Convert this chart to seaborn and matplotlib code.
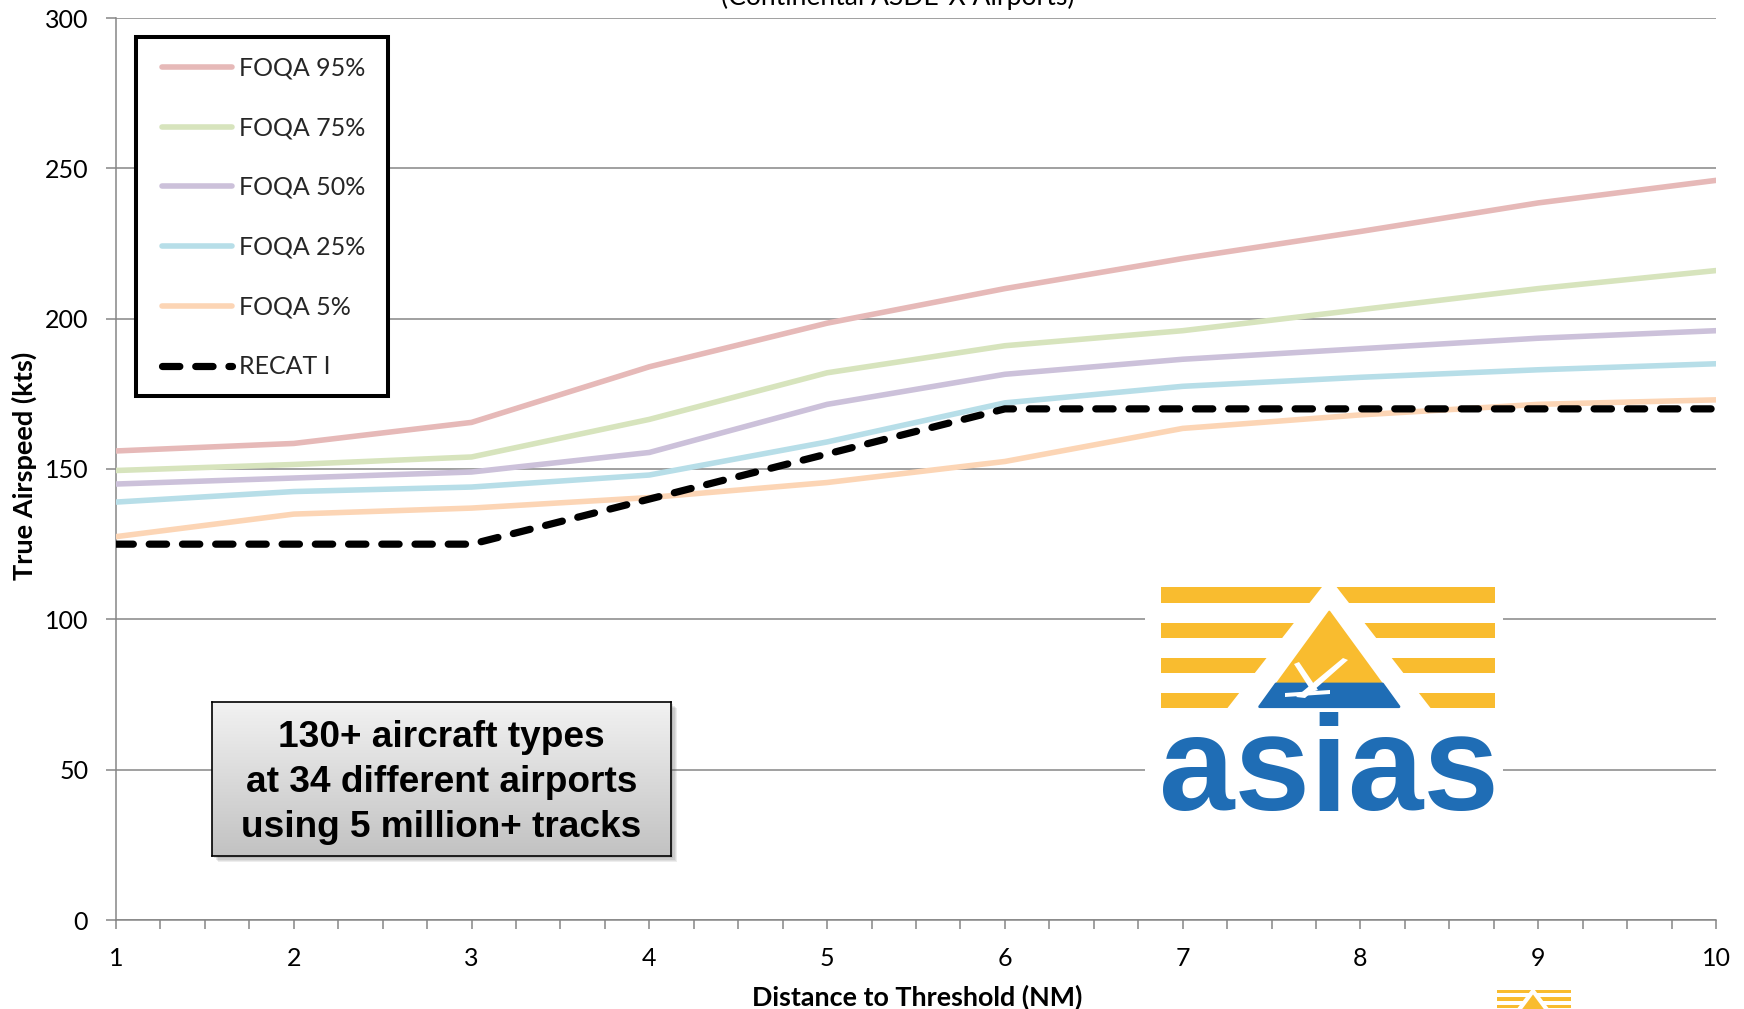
import numpy as np
import pandas as pd
import matplotlib
matplotlib.use("Agg")
import matplotlib.pyplot as plt
import seaborn as sns
from matplotlib.patches import Rectangle, Polygon
from matplotlib.transforms import Affine2D
from matplotlib.ticker import MultipleLocator
from matplotlib.colors import LinearSegmentedColormap

# ---------------- data ----------------
distance_nm = [1, 2, 3, 4, 5, 6, 7, 8, 9, 10]
foqa_95 = [156, 158.5, 165.5, 184, 198.5, 210, 220, 229, 238.5, 246]
foqa_75 = [149.5, 151.5, 154, 166.5, 182, 191, 196, 203, 210, 216]
foqa_50 = [145, 147, 149, 155.5, 171.5, 181.5, 186.5, 190, 193.5, 196]
foqa_25 = [139, 142.5, 144, 148, 159, 172, 177.5, 180.5, 183, 185]
foqa_5 = [127.5, 135, 137, 140.5, 145.5, 152.5, 163.5, 168, 171.5, 173]
recat_1 = [125, 125, 125, 140, 155, 170, 170, 170, 170, 170]

series_names = ["FOQA 95%", "FOQA 75%", "FOQA 50%", "FOQA 25%", "FOQA 5%", "RECAT I"]
series_values = [foqa_95, foqa_75, foqa_50, foqa_25, foqa_5, recat_1]
series_colors = ["#E6B9B8", "#D7E4BD", "#CCC1DA", "#B7DEE8", "#FCD5B5", "#000000"]

y_ticks = [0, 50, 100, 150, 200, 250, 300]
x_ticks = distance_nm
title_text = "(Continental ASDE-X Airports)"
x_label = "Distance to Threshold (NM)"
y_label = "True Airspeed (kts)"
note_lines = ["130+ aircraft types", "at 34 different airports", "using 5 million+ tracks"]
logo_text = "asias"

# ---------------- style ----------------
sns.set_theme(style="ticks")
plt.rcParams['font.family'] = ['Lato', 'DejaVu Sans']

W, H = 1744, 1009
fig = plt.figure(figsize=(W / 100, H / 100), dpi=100)
fig.patch.set_facecolor("white")
ax = fig.add_axes([116 / W, 1 - 920 / H, 1600 / W, 902 / H])
ax.set_zorder(0)
renderer = fig.canvas.get_renderer()


def fit_width(t, target_px):
    bb = t.get_window_extent(renderer)
    w = bb.width if t.get_rotation() == 0 else bb.height
    t.set_fontsize(t.get_fontsize() * target_px / w)


df = pd.DataFrame({
    "distance": distance_nm * len(series_names),
    "speed": sum(series_values, []),
    "series": sum([[n] * len(distance_nm) for n in series_names], []),
})

grid_gray = "#868686"
handles = []
for name, color in zip(series_names, series_colors):
    sub = df[df["series"] == name]
    is_recat = name == "RECAT I"
    sns.lineplot(data=sub, x="distance", y="speed", color=color, ax=ax,
                 lw=5.2 if is_recat else 4.0, legend=False,
                 zorder=5 if is_recat else 3)
    line = ax.get_lines()[-1]
    line.set_solid_joinstyle("round")
    if is_recat:
        line.set_linestyle((0, (2.4, 2.2)))
        line.set_dash_capstyle("round")
        line.set_dash_joinstyle("round")
    line.set_label(name)
    handles.append(line)

ax.set_xlim(1, 10)
ax.set_ylim(0, 300)
ax.set_xticks(x_ticks)
ax.set_yticks(y_ticks)
ax.xaxis.set_minor_locator(MultipleLocator(0.25))

ax.yaxis.grid(True, color=grid_gray, lw=1.1)
ax.set_axisbelow(True)
for s in ["left", "bottom"]:
    ax.spines[s].set_color(grid_gray)
    ax.spines[s].set_linewidth(1.1)
ax.spines["right"].set_visible(False)
ax.spines["top"].set_visible(False)

ax.tick_params(axis="y", which="major", direction="out", length=7, width=1.1,
               color=grid_gray, pad=13, labelsize=18, labelcolor="black", left=True)
ax.tick_params(axis="x", which="both", direction="out", length=6.2, width=1.1,
               color=grid_gray, pad=13, labelsize=18, labelcolor="black", bottom=True)

ax.set_xlabel(x_label, fontsize=18, fontweight="bold", color="black")
ax.set_ylabel(y_label, fontsize=18, fontweight="bold", color="black")
ax.xaxis.label.set_va("center")
ax.yaxis.label.set_va("center")
ax.xaxis.set_label_coords(0.501, -0.0854)
ax.yaxis.set_label_coords(-0.0575, 0.503)
fit_width(ax.xaxis.label, 332)
fit_width(ax.yaxis.label, 228)

# pixel transform (origin top-left)
T = Affine2D().scale(1 / W, -1 / H).translate(0, 1) + fig.transFigure

# legend with separate frame
fig.add_artist(Rectangle((136, 37), 252, 359, transform=T, facecolor="white",
                         edgecolor="black", lw=2.9, zorder=4))
leg = fig.legend(handles=handles, labels=series_names, loc="upper left",
                 bbox_to_anchor=(161.5 / W, 1 - 56.5 / H), bbox_transform=fig.transFigure,
                 borderaxespad=0, frameon=False, fontsize=18, handlelength=2.8,
                 handletextpad=0.29, labelspacing=1.47, borderpad=0)
leg.set_zorder(5)

# title (cut at the top edge)
tt = fig.text(898 / W, 1 - 5 / H, title_text, ha="center", va="baseline", fontsize=18, color="black")
fit_width(tt, 352)

# ---------------- note box ----------------
for i, a in enumerate([0.10, 0.10, 0.12, 0.15]):
    off = 6 - i * 1.2
    fig.add_artist(Rectangle((212 + off, 702 + off), 459, 154, transform=T,
                             facecolor="#555555", edgecolor="none", alpha=a, zorder=0.5))
bx = fig.add_axes([212 / W, 1 - 856 / H, 459 / W, 154 / H])
bx.set_zorder(1)
grad = np.linspace(0, 1, 256).reshape(-1, 1)
cmap = LinearSegmentedColormap.from_list("g", ["#F2F2F2", "#C2C2C2"])
bx.imshow(grad, aspect="auto", cmap=cmap, extent=[0, 1, 0, 1], origin="upper")
bx.set_xticks([])
bx.set_yticks([])
for s in bx.spines.values():
    s.set_color("black")
    s.set_linewidth(1.2)
note_arts = []
for txt, base in zip(note_lines, [747, 792, 837]):
    t = fig.text(441.5 / W, 1 - base / H, txt, ha="center", va="baseline", fontsize=24,
                 fontweight="bold", family=["Liberation Sans", "DejaVu Sans"], color="black",
                 zorder=3)
    note_arts.append(t)
bbw = note_arts[1].get_window_extent(renderer).width
for t in note_arts:
    t.set_fontsize(24 * 392 / bbw)

# ---------------- logo ----------------
yel = "#F9BC2F"
blu = "#1F6DB5"
Z = 2
fig.add_artist(Rectangle((1145, 582), 358, 238, transform=T, facecolor="white",
                         edgecolor="none", zorder=Z))
for y0, y1 in [(587.3, 602.7), (623.3, 638.3), (658.3, 673.3), (693.3, 708.3)]:
    fig.add_artist(Rectangle((1160.7, y0), 1495 - 1160.7, y1 - y0, transform=T,
                             facecolor=yel, edgecolor="none", zorder=Z))
fig.add_artist(Polygon([(1329.3, 581), (1227, 712), (1431, 712)], closed=True, transform=T,
                       facecolor="white", edgecolor="white", lw=3, joinstyle="round", zorder=Z))
fig.add_artist(Polygon([(1329.3, 611.7), (1260, 706.7), (1398.6, 706.7)], closed=True, transform=T,
                       facecolor=yel, edgecolor=yel, lw=1.5, joinstyle="round", zorder=Z))
fig.add_artist(Polygon([(1276, 684), (1382.6, 684), (1399, 706.7), (1259.6, 706.7)], closed=True,
                       transform=T, facecolor=blu, edgecolor=blu, lw=2, joinstyle="round", zorder=Z))
# plane silhouette
fig.add_artist(Polygon([(1296, 697), (1343, 658), (1348, 660), (1305, 698)], closed=True,
                       transform=T, facecolor="white", edgecolor="none", zorder=Z))
fig.add_artist(Polygon([(1294, 664), (1299, 662), (1318, 690), (1312, 692)], closed=True,
                       transform=T, facecolor="white", edgecolor="none", zorder=Z))
fig.add_artist(Polygon([(1285, 693), (1330, 690), (1330, 694), (1285, 697)], closed=True,
                       transform=T, facecolor="white", edgecolor="none", zorder=Z))
lt = fig.text(1328.7 / W, 1 - 810 / H, logo_text, ha="center", va="baseline", fontsize=100,
              fontweight="bold", color=blu, family=["Liberation Sans", "DejaVu Sans"], zorder=Z + 1)
fit_width(lt, 340)

# small logo at bottom right (cut off)
for y0, y1 in [(990, 993.3), (997.3, 1000.7), (1005, 1008.3)]:
    fig.add_artist(Rectangle((1497, y0), 74, y1 - y0, transform=T,
                             facecolor=yel, edgecolor="none", zorder=Z))
fig.add_artist(Polygon([(1533, 987.5), (1510, 1018), (1556, 1018)], closed=True, transform=T,
                       facecolor="white", edgecolor="none", zorder=Z))
fig.add_artist(Polygon([(1533, 994.5), (1517, 1016), (1549, 1016)], closed=True, transform=T,
                       facecolor=yel, edgecolor="none", zorder=Z))

fig.savefig("out.png", dpi=100, facecolor="white")
